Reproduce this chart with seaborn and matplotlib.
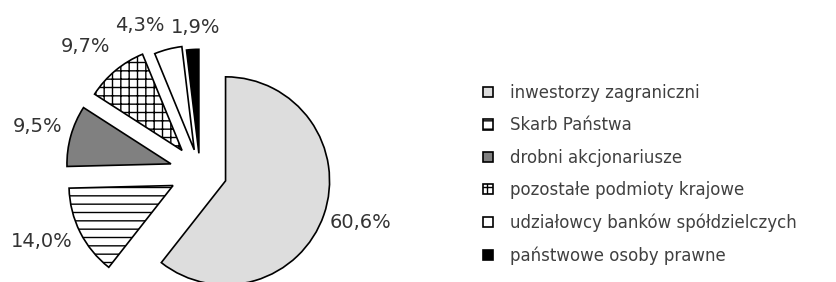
import matplotlib
matplotlib.use("Agg")
import numpy as np
import matplotlib.pyplot as plt
import seaborn as sns

# struktura akcjonariatu, clockwise from 12 o'clock
groups = ["inwestorzy zagraniczni", "Skarb Państwa", "drobni akcjonariusze",
          "pozostałe podmioty krajowe", "udziałowcy banków spółdzielczych",
          "państwowe osoby prawne"]
shares = [60.6, 14.0, 9.5, 9.7, 4.3, 1.9]

fills = ["#dddddd", "white", "#808080", "white", "white", "black"]
hatches = ["", "--", "", "++", "", ""]
explode = [0.26, 0.29, 0.29, 0.27, 0.22, 0.18]

# label placement: distance from the slice tip (radii) and turn off the mid-angle (deg)
label_dist = [1.36, 1.37, 1.33, 1.36, 1.30, 1.21]
label_turn = [2, -3.5, 0, 3, 9, -2]

sns.set_theme(style="white")
plt.rcParams["font.family"] = ["DejaVu Sans"]
plt.rcParams["hatch.linewidth"] = 1.0

fig = plt.figure(figsize=(8.36, 2.82), dpi=100)
ax = fig.add_axes([0, 0, 420 / 836, 1])

# percentages with a decimal comma
pct_labels = [f"{v:.1f}%".replace(".", ",") for v in shares]

wedges, texts = ax.pie(shares, labels=pct_labels, colors=fills, hatch=hatches,
                       explode=explode, startangle=90, counterclock=False,
                       wedgeprops=dict(edgecolor="black", linewidth=1.2),
                       textprops=dict(fontsize=14, color="#333333"))

for w, t, d, turn in zip(wedges, texts, label_dist, label_turn):
    ang = np.deg2rad((w.theta1 + w.theta2) / 2 + turn)
    cx, cy = w.center
    t.set_position((cx + d * np.cos(ang), cy + d * np.sin(ang)))
    t.set_ha("center")
    t.set_va("center")

# 1 data unit = 104 px, pie centre at (200, 172) px from top-left
ax.set_aspect("auto")
ax.set_xlim(-200 / 104, 220 / 104)
ax.set_ylim(-110 / 104, 172 / 104)

fig.legend(wedges, groups, loc="upper left",
           bbox_to_anchor=(483 / 836, 1 - 84 / 282),
           frameon=False, borderpad=0, borderaxespad=0,
           handlelength=0.6, handleheight=0.6, handletextpad=1.0,
           labelspacing=0.86, fontsize=12, labelcolor="#404040")

fig.savefig("out.png", dpi=100)
